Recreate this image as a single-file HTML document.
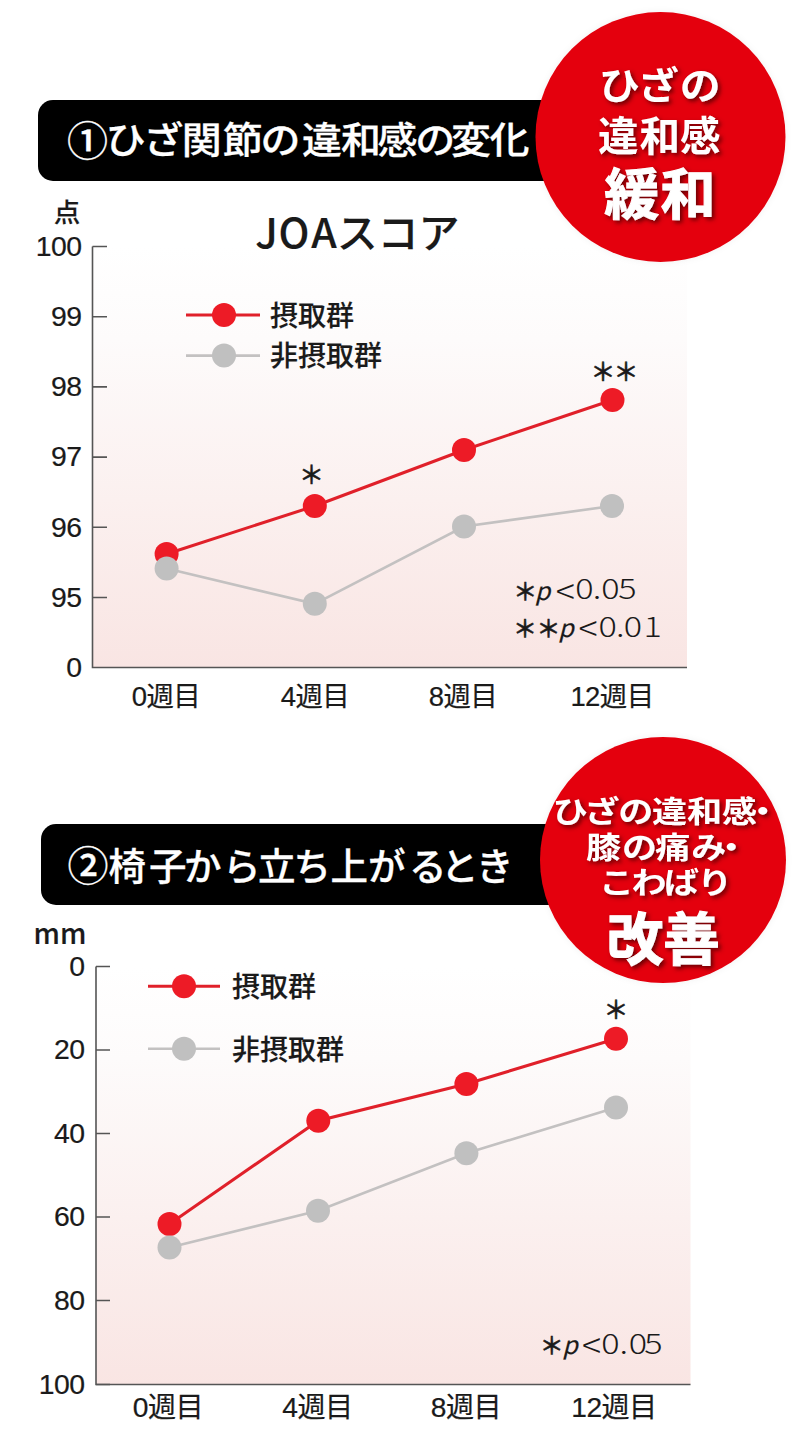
<!DOCTYPE html>
<html lang="ja">
<head>
<meta charset="utf-8">
<title>ひざ関節の違和感の変化</title>
<style>
html,body{margin:0;padding:0;background:#fff;}
body{width:800px;height:1445px;overflow:hidden;position:relative;}
svg{position:absolute;left:0;top:0;display:block;}
text{font-family:"Liberation Sans","Noto Sans CJK JP",sans-serif;}
.jp{font-family:"Noto Sans CJK JP",sans-serif;}
.ax{font-family:"Noto Sans CJK JP",sans-serif;font-weight:500;fill:#1a1a1a;stroke:#1a1a1a;stroke-width:0.15px;}
.hd{font-family:"Noto Sans CJK JP",sans-serif;font-weight:500;fill:#fff;stroke:#fff;stroke-width:0.3px;}
.nt text{font-family:"Noto Sans CJK JP",sans-serif;font-weight:400;fill:#1a1a1a;}
.mk{font-weight:500;stroke-width:0.5px;}
.nt .ns{font-weight:500;stroke:#1a1a1a;stroke-width:0.5px;}
.nt .lt{font-weight:300;}
.nt .pp{font-weight:400;stroke:#1a1a1a;stroke-width:0.2px;}
.dg{font-family:"DejaVu Sans","Noto Sans CJK JP",sans-serif;font-weight:400;}
.dg text{letter-spacing:-0.6px;stroke-width:0.2px;}
.bd{font-family:"Noto Sans CJK JP",sans-serif;font-weight:700;fill:#fff;}
.bx{stroke:#fff;stroke-width:1px;}
</style>
</head>
<body>
<svg width="800" height="1445" viewBox="0 0 800 1445">
<defs>
  <linearGradient id="g1" x1="0" y1="0" x2="0" y2="1">
    <stop offset="0" stop-color="#ffffff"/>
    <stop offset="0.22" stop-color="#fdfbfb"/>
    <stop offset="0.6" stop-color="#fbf0ef"/>
    <stop offset="1" stop-color="#f9e5e3"/>
  </linearGradient>
  <filter id="sh" x="-20%" y="-20%" width="140%" height="140%">
    <feDropShadow dx="2.5" dy="2.5" stdDeviation="2.2" flood-color="#4a0000" flood-opacity="0.8"/>
  </filter>
  <filter id="csh" x="-10%" y="-10%" width="120%" height="120%">
    <feDropShadow dx="0" dy="0" stdDeviation="3" flood-color="#000" flood-opacity="0.06"/>
  </filter>
</defs>

<!-- chart backgrounds -->
<rect x="92.5" y="246.5" width="594.5" height="421" fill="url(#g1)"/>
<rect x="96" y="966.5" width="594.5" height="418" fill="url(#g1)"/>

<!-- ===== Section 1 ===== -->
<rect x="38" y="100" width="600" height="81" rx="15" ry="15" fill="#000"/>
<text class="hd" x="66.9" y="156.1" font-size="41">①</text>
<text class="hd" transform="scale(1.08 1)" x="97.96 132.86 168.37 206.2 241.29 279.58 315.69 349.58 384.58 417.5 453.19" y="154" font-size="37">ひざ関節の違和感の変化</text>

<circle cx="660.5" cy="137" r="125" fill="#e40011" filter="url(#csh)"/>
<g filter="url(#sh)">
<text class="bd" transform="scale(1.075 1)" x="557.23 593.51 632.42" y="99" font-size="38">ひざの</text>
<text class="bd" x="598 639.5 680.1" y="150.5" font-size="40.5">違和感</text>
<text class="bd bx" x="604.25 660.5" y="214.3" font-size="55">緩和</text>
</g>

<!-- chart 1 -->
<text class="ax" x="66.9" y="222" font-size="26.5" text-anchor="middle">点</text>
<text class="ax" x="255.25 278.6 311.25 336.7 377.4 418.6" y="248" font-size="41">JOAスコア</text>

<g stroke="#555" stroke-width="1.6" fill="none">
  <path d="M92.5 246.5V667.5H687"/>
  <path d="M92.5 246.5H107M92.5 316.7H107M92.5 386.9H107M92.5 457.1H107M92.5 527.3H107M92.5 597.5H107"/>
</g>
<g class="ax dg" font-size="28.4" text-anchor="end">
  <text x="81.4" y="255.7">100</text>
  <text x="81.4" y="325.9">99</text>
  <text x="81.4" y="396.1">98</text>
  <text x="81.4" y="466.3">97</text>
  <text x="81.4" y="536.5">96</text>
  <text x="81.4" y="606.7">95</text>
  <text x="81.4" y="676.7">0</text>
</g>
<g class="ax dg" font-size="27.5" text-anchor="middle">
  <text x="166" y="706">0週目</text>
  <text x="315" y="706">4週目</text>
  <text x="463" y="706">8週目</text>
  <text x="612" y="706">12週目</text>
</g>

<!-- legend 1 -->
<path d="M186 315H260" stroke="#e0202a" stroke-width="3"/>
<circle cx="224" cy="315" r="12" fill="#ed1b26"/>
<path d="M186 355.6H260" stroke="#c3c1c1" stroke-width="2.6"/>
<circle cx="224" cy="355.6" r="12" fill="#c0c0c0"/>
<text class="ax" x="270" y="326" font-size="28">摂取群</text>
<text class="ax" x="270" y="366" font-size="28">非摂取群</text>

<!-- data 1 -->
<polyline points="166.6,554 314.8,506 464,450 612.5,400" fill="none" stroke="#e0202a" stroke-width="3"/>
<g fill="#ed1b26">
  <circle cx="166.6" cy="554" r="12"/><circle cx="314.8" cy="506" r="12"/><circle cx="464" cy="450" r="12"/><circle cx="612.5" cy="400" r="12"/>
</g>
<polyline points="166.6,568.6 314.8,603.8 464,526.5 612,506" fill="none" stroke="#c3c1c1" stroke-width="2.6"/>
<g fill="#c0c0c0">
  <circle cx="166.6" cy="568.6" r="12"/><circle cx="314.8" cy="603.8" r="12"/><circle cx="464" cy="526.5" r="12"/><circle cx="612" cy="506" r="12"/>
</g>
<text class="ax mk" x="299" y="483.75" font-size="25">＊</text>
<text class="ax mk" x="590.4 613.6" y="381.25" font-size="25">＊＊</text>

<g class="nt"><text class="ns" x="513.2" y="599.5" font-size="24">＊</text><text x="534.9" y="599.5" font-size="24.5" font-style="italic" class="pp">p</text><text class="lt" x="555.7" y="604.6" font-size="35.7">&lt;</text><text transform="scale(1.25 1)" x="460.12 474.24 480.92 494.60" y="599.5" class="lt" font-size="27.4">0.05</text></g>
<g class="nt"><text class="ns" x="512.9" y="637.4" font-size="24">＊</text><text class="ns" x="536.5" y="637.4" font-size="24">＊</text><text x="558.5" y="637.4" font-size="24.5" font-style="italic" class="pp">p</text><text class="lt" x="578.6" y="642.4" font-size="35.7">&lt;</text><text transform="scale(1.25 1)" x="478.84 492.72 499.08 514.80" y="637.4" class="lt" font-size="27.4">0.01</text></g>

<!-- ===== Section 2 ===== -->
<rect x="41" y="824" width="600" height="81" rx="15" ry="15" fill="#000"/>
<text class="hd" x="67.4" y="880.6" font-size="41">②</text>
<text class="hd" x="108.5 149 184 222.9 258 293.6 330.5 368 409.1 441.1 476.1" y="880" font-size="37.5">椅子から立ち上がるとき</text>

<circle cx="663" cy="860" r="123" fill="#e40011" filter="url(#csh)"/>
<g filter="url(#sh)">
<text class="bd" transform="scale(1.17 1)" x="472.47 499.68 528.34 557.33 587.21 617.03 636.86" y="822.3" font-size="30">ひざの違和感・</text>
<text class="bd" transform="scale(1.17 1)" x="500.88 531.59 560.09 590.79 609.94" y="858" font-size="30">膝の痛み・</text>
<text class="bd" transform="scale(1.17 1)" x="511.9 539.68 567.5 595.9" y="893.4" font-size="30">こわばり</text>
<text class="bd bx" x="606.4 663" y="960" font-size="57">改善</text>
</g>

<!-- chart 2 -->
<text class="ax" x="33.6" y="944.4" font-size="28">mm</text>
<g stroke="#555" stroke-width="1.6" fill="none">
  <path d="M96 966.5V1384.5H690.5"/>
  <path d="M96 966.5H110M96 1050H110M96 1133.5H110M96 1217H110M96 1300.5H110M96 1384.5H110"/>
</g>
<g class="ax dg" font-size="28.4" text-anchor="end">
  <text x="84.4" y="975.7">0</text>
  <text x="84.4" y="1059.2">20</text>
  <text x="84.4" y="1142.7">40</text>
  <text x="84.4" y="1226.2">60</text>
  <text x="84.4" y="1309.7">80</text>
  <text x="84.4" y="1393.7">100</text>
</g>
<g class="ax dg" font-size="28.2" text-anchor="middle">
  <text x="168" y="1417.3">0週目</text>
  <text x="317.5" y="1417.3">4週目</text>
  <text x="466" y="1417.3">8週目</text>
  <text x="614" y="1417.3">12週目</text>
</g>

<!-- legend 2 -->
<path d="M148 986.3H220" stroke="#e0202a" stroke-width="3"/>
<circle cx="184" cy="986.3" r="12" fill="#ed1b26"/>
<path d="M148 1048.8H220" stroke="#c3c1c1" stroke-width="2.6"/>
<circle cx="184" cy="1048.8" r="12" fill="#c0c0c0"/>
<text class="ax" x="232" y="997" font-size="28">摂取群</text>
<text class="ax" x="232" y="1059.5" font-size="28">非摂取群</text>

<!-- data 2 -->
<polyline points="169.5,1224 318.3,1120.7 466.4,1084 616,1038.8" fill="none" stroke="#e0202a" stroke-width="3"/>
<g fill="#ed1b26">
  <circle cx="169.5" cy="1224" r="12"/><circle cx="318.3" cy="1120.7" r="12"/><circle cx="466.4" cy="1084" r="12"/><circle cx="616" cy="1038.8" r="12"/>
</g>
<polyline points="169.5,1247.5 318,1210.7 466.4,1153.2 616,1107.6" fill="none" stroke="#c3c1c1" stroke-width="2.6"/>
<g fill="#c0c0c0">
  <circle cx="169.5" cy="1247.5" r="12"/><circle cx="318" cy="1210.7" r="12"/><circle cx="466.4" cy="1153.2" r="12"/><circle cx="616" cy="1107.6" r="12"/>
</g>
<text class="ax mk" x="603.4" y="1019.25" font-size="25">＊</text>
<g class="nt"><text class="ns" x="539.8" y="1354.2" font-size="24">＊</text><text x="562.4" y="1354.2" font-size="24.5" font-style="italic" class="pp">p</text><text class="lt" x="582.0" y="1359.3" font-size="35.7">&lt;</text><text transform="scale(1.25 1)" x="480.92 495.60 503.00 515.40" y="1354.2" class="lt" font-size="27.4">0.05</text></g>
</svg>
</body>
</html>
